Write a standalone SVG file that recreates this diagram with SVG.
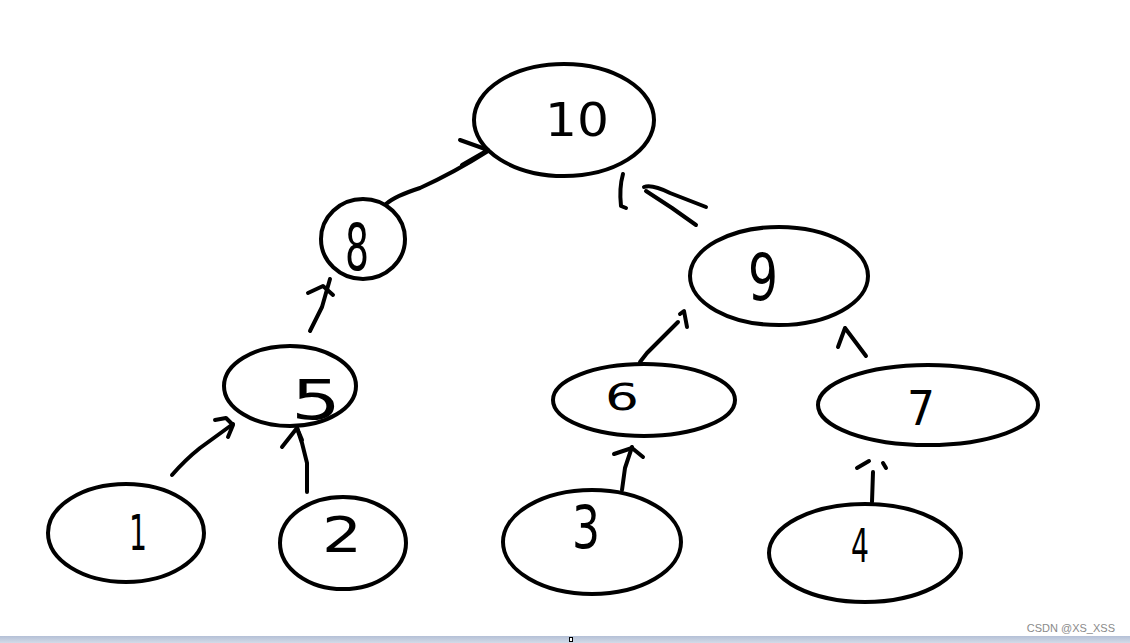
<svg xmlns="http://www.w3.org/2000/svg" width="1130" height="643" viewBox="0 0 1130 643">
<style>
.n{fill:none;stroke:#000;stroke-width:4}
.c{fill:none;stroke:#000;stroke-width:4;stroke-linecap:round;stroke-linejoin:round}
.t{font-family:"DejaVu Sans","Liberation Sans",sans-serif;fill:#000;text-anchor:middle}
</style>
<defs><linearGradient id="bar" x1="0" y1="0" x2="0" y2="1"><stop offset="0" stop-color="#b4c0d6"/><stop offset="1" stop-color="#d3dbe8"/></linearGradient></defs>
<rect width="1130" height="643" fill="#fff"/>
<g id="node10"><ellipse class="n" cx="564" cy="120" rx="90" ry="56"/><text class="t" x="577" y="136" font-size="46" textLength="64" lengthAdjust="spacingAndGlyphs">10</text></g>
<g id="node8"><ellipse class="n" cx="363" cy="239" rx="42" ry="40"/><text class="t" x="357" y="270" font-size="64" textLength="24" lengthAdjust="spacingAndGlyphs">8</text></g>
<g id="node9"><ellipse class="n" cx="779" cy="276" rx="89" ry="49"/><text class="t" x="763" y="300" font-size="64" textLength="30" lengthAdjust="spacingAndGlyphs">9</text></g>
<g id="node5"><ellipse class="n" cx="290" cy="386" rx="66" ry="40"/><text class="t" x="316" y="419" font-size="56" textLength="50" lengthAdjust="spacingAndGlyphs">5</text></g>
<g id="node6"><ellipse class="n" cx="644" cy="400" rx="91" ry="36"/><text class="t" x="622" y="410" font-size="38" textLength="34" lengthAdjust="spacingAndGlyphs">6</text></g>
<g id="node7"><ellipse class="n" cx="928" cy="405" rx="110" ry="40"/><text class="t" x="921" y="425" font-size="48" textLength="28" lengthAdjust="spacingAndGlyphs">7</text></g>
<g id="node1"><ellipse class="n" cx="126" cy="533" rx="78" ry="49"/><text class="t" x="138" y="550" font-size="50" textLength="18" lengthAdjust="spacingAndGlyphs">1</text></g>
<g id="node2"><ellipse class="n" cx="343" cy="543" rx="63" ry="46"/><text class="t" x="342" y="552" font-size="50" textLength="40" lengthAdjust="spacingAndGlyphs">2</text></g>
<g id="node3"><ellipse class="n" cx="592" cy="542" rx="89" ry="52"/><text class="t" x="586" y="548" font-size="58" textLength="28" lengthAdjust="spacingAndGlyphs">3</text></g>
<g id="node4"><ellipse class="n" cx="865" cy="553" rx="96" ry="49"/><text class="t" x="860" y="562" font-size="46" textLength="18" lengthAdjust="spacingAndGlyphs">4</text></g>
<g id="connectors">
<path class="c" d="M386 204 Q395 196 420 188 Q455 172 488 151"/>
<path class="c" d="M460 140 L488 150 L462 165"/>
<path class="c" d="M623 174 Q619 188 621 206 L626 208"/>
<path class="c" d="M644 187 Q652 184 670 193 L706 207"/>
<path class="c" d="M646 191 L672 208 L696 225"/>
<path class="c" d="M310 331 L322 307 L330 279"/>
<path class="c" d="M308 293 L323 286 L333 295"/>
<path class="c" d="M172 475 Q185 460 200 448 L233 424"/>
<path class="c" d="M215 420 L226 418 L233 425 L228 437"/>
<path class="c" d="M307 492 L307 463 L302 443 L297 428"/>
<path class="c" d="M282 447 L297 428 L302 440"/>
<path class="c" d="M640 362 L647 353 L678 322"/>
<path class="c" d="M680 314 L684 311 L687 327"/>
<path class="c" d="M838 347 L845 328 L866 356"/>
<path class="c" d="M622 490 L625 468 L632 447"/>
<path class="c" d="M614 454 L632 448 L643 457"/>
<path class="c" d="M872 502 L873 472"/>
<path class="c" d="M857 468 L869 461"/>
<path class="c" d="M883 463 L886 468"/>
</g>
<text x="1115" y="632" font-family="Liberation Sans,sans-serif" font-size="11" fill="#8a8a8a" text-anchor="end">CSDN @XS_XSS</text>
<rect x="0" y="636" width="1130" height="7" fill="url(#bar)"/>
<rect x="569.5" y="637.5" width="3" height="4" fill="#fff" stroke="#000" stroke-width="1"/>
</svg>
